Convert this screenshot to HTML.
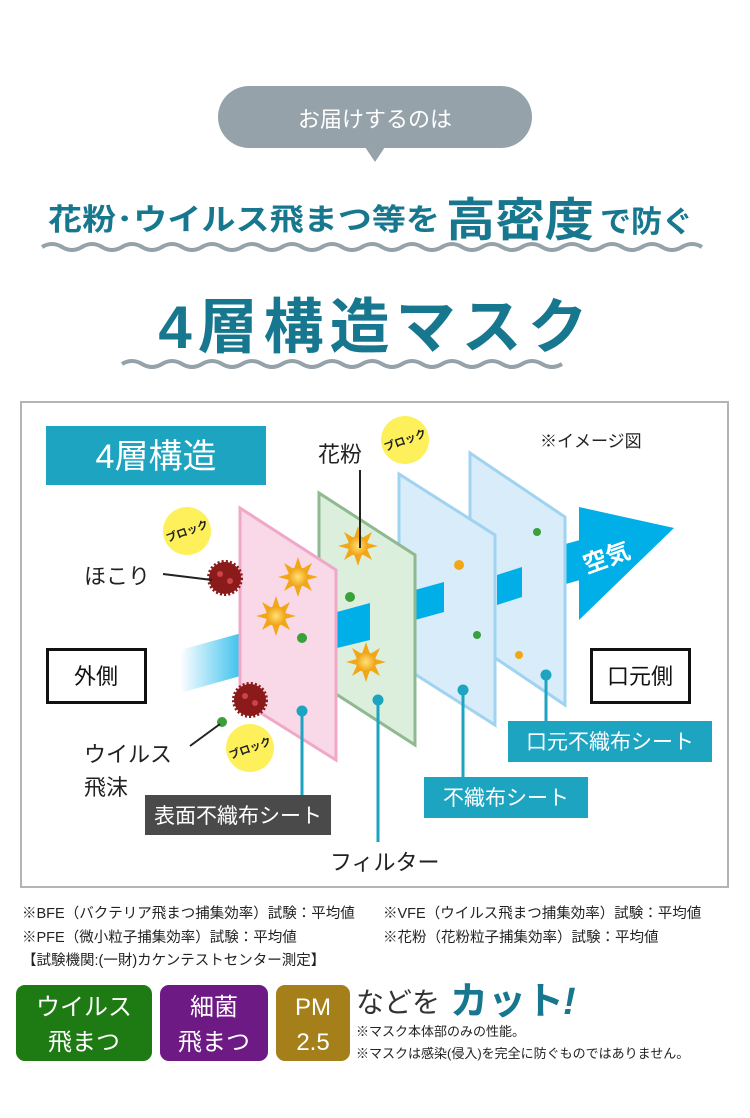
<!DOCTYPE html>
<html><head><meta charset="utf-8"><style>
body{margin:0;width:750px;height:1118px;background:#fff;position:relative;overflow:hidden;font-family:"Liberation Sans","Noto Sans CJK JP",sans-serif}
.a{position:absolute;white-space:nowrap}
</style></head><body>
<svg class="a" style="left:0;top:0" width="750" height="1118" viewBox="0 0 750 1118" font-family="Liberation Sans, Noto Sans CJK JP, sans-serif">
<defs>
<linearGradient id="fade" x1="0" x2="1"><stop offset="0" stop-color="#00aee8" stop-opacity="0"/><stop offset="0.2" stop-color="#00aee8"/></linearGradient>
<radialGradient id="pol"><stop offset="0" stop-color="#ffe27a"/><stop offset="1" stop-color="#f0a010"/></radialGradient>
<g id="spk"><polygon points="0,-20 4,-8 14,-14 9,-3 20,0 9,3 14,14 4,8 0,20 -4,8 -14,14 -9,3 -20,0 -9,-3 -14,-14 -4,-8" fill="#f2a816"/><circle r="10" fill="url(#pol)"/></g>
<g id="vir"><circle r="16" fill="#8b1a1a" stroke="#8b1a1a" stroke-width="4" stroke-dasharray="2 2"/><circle r="3" cx="-5" cy="-4" fill="#c44"/><circle r="3" cx="5" cy="3" fill="#c44"/></g>
</defs>
<rect x="218" y="86" width="314" height="62" rx="31" fill="#95a2aa"/>
<polygon points="365,147 385,147 375,162" fill="#95a2aa"/>
<text x="375" y="127" font-size="22" fill="#fff" text-anchor="middle">お届けするのは</text>
<text x="48" y="230" font-size="30" font-weight="bold" fill="#17778e" textLength="392" lengthAdjust="spacingAndGlyphs">花粉･ウイルス飛まつ等を</text>
<text x="446" y="236" font-size="46" font-weight="bold" fill="#17778e" textLength="148" lengthAdjust="spacingAndGlyphs">高密度</text>
<text x="600" y="232" font-size="30" font-weight="bold" fill="#17778e" textLength="93" lengthAdjust="spacingAndGlyphs">で防ぐ</text>
<path d="M42 247 q10 -6 20 0 t20 0 t20 0 t20 0 t20 0 t20 0 t20 0 t20 0 t20 0 t20 0 t20 0 t20 0 t20 0 t20 0 t20 0 t20 0 t20 0 t20 0 t20 0 t20 0 t20 0 t20 0 t20 0 t20 0 t20 0 t20 0 t20 0 t20 0 t20 0 t20 0 t20 0 t20 0 t20 0" fill="none" stroke="#95a2aa" stroke-width="4"/>
<text x="376" y="348" font-size="60" font-weight="bold" fill="#17778e" text-anchor="middle" letter-spacing="6">4層構造マスク</text>
<path d="M122 364 q10 -6 20 0 t20 0 t20 0 t20 0 t20 0 t20 0 t20 0 t20 0 t20 0 t20 0 t20 0 t20 0 t20 0 t20 0 t20 0 t20 0 t20 0 t20 0 t20 0 t20 0 t20 0 t20 0" fill="none" stroke="#95a2aa" stroke-width="4"/>
<rect x="21" y="402" width="707" height="485" fill="#fff" stroke="#b4b4b4" stroke-width="2"/>
<rect x="46" y="426" width="220" height="59" fill="#1ca4c0"/>
<text x="156" y="468" font-size="34" fill="#fff" text-anchor="middle">4層構造</text>
<text x="540" y="447" font-size="17" fill="#222">※イメージ図</text>
<polygon points="180,650 580,540 580,580 180,693" fill="url(#fade)"/>
<polygon points="579,507 674,528 579,620" fill="#00aee8"/>
<text x="582" y="566" font-size="24" font-weight="bold" fill="#fff" transform="rotate(-20 606 556)">空気</text>
<polygon points="470,453 565,517 565,705 470,641" fill="#d8ecfa" stroke="#9fd3f0" stroke-width="3"/>
<polygon points="497,575 522,567 522,597 497,605" fill="#00aee8"/>
<polygon points="399,474 495,535 495,725 399,664" fill="#d8ecfa" stroke="#9fd3f0" stroke-width="3"/>
<polygon points="415,590 444,582 444,612 415,620" fill="#00aee8"/>
<polygon points="319,493 415,555 415,745 319,683" fill="#dcefdc" stroke="#8fb98f" stroke-width="3"/>
<polygon points="337,612 370,603 370,640 337,648" fill="#00aee8"/>
<polygon points="240,508 336,570 336,760 240,700" fill="#f9d9e8" stroke="#f0a8c8" stroke-width="3"/>
<use href="#spk" x="298" y="577"/><use href="#spk" x="276" y="616"/><use href="#spk" x="358" y="546"/><use href="#spk" x="366" y="662"/>
<use href="#vir" x="225" y="578"/><use href="#vir" x="250" y="700"/>
<circle cx="350" cy="597" r="5" fill="#3aa03a"/><circle cx="302" cy="638" r="5" fill="#3aa03a"/><circle cx="477" cy="635" r="4" fill="#3aa03a"/><circle cx="537" cy="532" r="4" fill="#3aa03a"/><circle cx="459" cy="565" r="5" fill="#f2a816"/><circle cx="519" cy="655" r="4" fill="#f2a816"/><circle cx="222" cy="722" r="5" fill="#3aa03a"/>
<text x="318" y="462" font-size="22" fill="#222">花粉</text>
<line x1="360" y1="470" x2="360" y2="548" stroke="#222" stroke-width="2"/>
<text x="84" y="584" font-size="22" fill="#222">ほこり</text>
<line x1="163" y1="574" x2="212" y2="580" stroke="#222" stroke-width="2"/>
<text x="84" y="762" font-size="22" fill="#222">ウイルス</text>
<text x="84" y="795" font-size="22" fill="#222">飛沫</text>
<line x1="190" y1="746" x2="220" y2="724" stroke="#222" stroke-width="2"/>
<g font-size="11" font-weight="bold" fill="#222" text-anchor="middle">
<circle cx="405" cy="440" r="24" fill="#fdf05a"/><text x="405" y="444" transform="rotate(-20 405 440)">ブロック</text>
<circle cx="187" cy="531" r="24" fill="#fdf05a"/><text x="187" y="535" transform="rotate(-20 187 531)">ブロック</text>
<circle cx="250" cy="748" r="24" fill="#fdf05a"/><text x="250" y="752" transform="rotate(-20 250 748)">ブロック</text>
</g>
<rect x="47.5" y="649.5" width="98" height="53" fill="#fff" stroke="#111" stroke-width="3"/>
<text x="96" y="684" font-size="22" fill="#111" text-anchor="middle">外側</text>
<rect x="591.5" y="649.5" width="98" height="53" fill="#fff" stroke="#111" stroke-width="3"/>
<text x="640" y="684" font-size="22" fill="#111" text-anchor="middle">口元側</text>
<g stroke="#1ca4c0" stroke-width="3" fill="#1ca4c0">
<line x1="302" y1="711" x2="302" y2="796"/><circle cx="302" cy="711" r="4"/>
<line x1="378" y1="700" x2="378" y2="842"/><circle cx="378" cy="700" r="4"/>
<line x1="463" y1="690" x2="463" y2="778"/><circle cx="463" cy="690" r="4"/>
<line x1="546" y1="675" x2="546" y2="722"/><circle cx="546" cy="675" r="4"/>
</g>
<rect x="145" y="795" width="186" height="40" fill="#4a4a4a"/>
<text x="238" y="823" font-size="21" fill="#fff" text-anchor="middle">表面不織布シート</text>
<rect x="424" y="777" width="164" height="41" fill="#1ca4c0"/>
<text x="506" y="805" font-size="21" fill="#fff" text-anchor="middle">不織布シート</text>
<rect x="508" y="721" width="204" height="41" fill="#1ca4c0"/>
<text x="610" y="749" font-size="21" fill="#fff" text-anchor="middle">口元不織布シート</text>
<text x="330" y="870" font-size="22" fill="#222">フィルター</text>
<g font-size="14.5" fill="#222">
<text x="22" y="918">※BFE（バクテリア飛まつ捕集効率）試験：平均値</text>
<text x="383" y="918">※VFE（ウイルス飛まつ捕集効率）試験：平均値</text>
<text x="22" y="942">※PFE（微小粒子捕集効率）試験：平均値</text>
<text x="383" y="942">※花粉（花粉粒子捕集効率）試験：平均値</text>
<text x="22" y="965">【試験機関:(一財)カケンテストセンター測定】</text>
</g>
<rect x="16" y="985" width="136" height="76" rx="9" fill="#1e7a12"/>
<text x="84" y="1015" font-size="24" fill="#fff" text-anchor="middle">ウイルス</text>
<text x="84" y="1050" font-size="24" fill="#fff" text-anchor="middle">飛まつ</text>
<rect x="160" y="985" width="108" height="76" rx="9" fill="#6e1a84"/>
<text x="214" y="1015" font-size="24" fill="#fff" text-anchor="middle">細菌</text>
<text x="214" y="1050" font-size="24" fill="#fff" text-anchor="middle">飛まつ</text>
<rect x="276" y="985" width="74" height="76" rx="9" fill="#a57f1a"/>
<text x="313" y="1015" font-size="24" fill="#fff" text-anchor="middle">PM</text>
<text x="313" y="1050" font-size="24" fill="#fff" text-anchor="middle">2.5</text>
<text x="356" y="1012" font-size="28" fill="#333">などを</text>
<text x="450" y="1014" font-size="38" font-weight="bold" fill="#17778e">カット</text>
<text x="563" y="1014" font-size="38" font-weight="bold" fill="#17778e" font-style="italic">!</text>
<text x="356" y="1036" font-size="13" fill="#222">※マスク本体部のみの性能。</text>
<text x="356" y="1058" font-size="13" fill="#222">※マスクは感染(侵入)を完全に防ぐものではありません。</text>
</svg>
</body></html>
